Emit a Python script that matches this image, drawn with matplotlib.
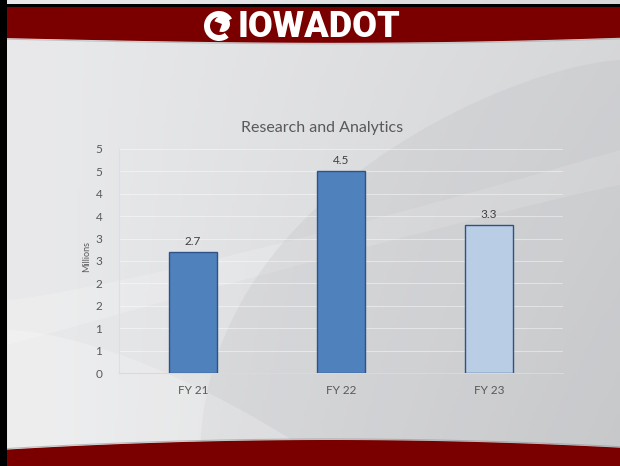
import numpy as np
import matplotlib
matplotlib.use("Agg")
import matplotlib.pyplot as plt
from matplotlib.patches import Polygon, Rectangle, Wedge, Circle

plt.rcParams["font.family"] = ["Lato", "DejaVu Sans"]

# data
categories = ["FY 21", "FY 22", "FY 23"]
values = [2.7, 4.5, 3.3]
value_labels = ["2.7", "4.5", "3.3"]
ytick_vals = [0, 0.5, 1, 1.5, 2, 2.5, 3, 3.5, 4, 4.5, 5]
ytick_labels = ["0", "1", "1", "2", "2", "3", "3", "4", "4", "5", "5"]

RED = "#7A0000"
BLUE = "#4F81BD"
LIGHT = "#B9CDE5"
EDGE = "#2E5288"
TXT = "#595959"

W, H = 620, 466
fig = plt.figure(figsize=(W / 100, H / 100), dpi=100)

# slide background (pixel coords)
bg = fig.add_axes([0, 0, 1, 1], zorder=0)
bg.set_xlim(0, W); bg.set_ylim(H, 0); bg.axis("off")
xx, yy = np.meshgrid(np.linspace(0, 1, 200), np.linspace(0, 1, 150))
shade = 0.91 - 0.11 * np.clip(xx * 1.1 - 0.1, 0, 1) * (0.6 + 0.4 * yy)
bg.imshow(np.dstack([shade, shade + 0.003, shade + 0.01]).clip(0, 1),
          extent=(0, W, H, 0), aspect="auto", zorder=0)

# soft swooshes
t = np.linspace(0, 1, 60)
upper = np.column_stack([8 + t * 612, 300 - 150 * t ** 1.2])
lower = np.column_stack([620 - t * 612, 225 - 40 * (1 - t) + 120 * t ** 1.1])
bg.add_patch(Polygon(np.vstack([upper, lower]), closed=True,
                     color="white", alpha=0.18, lw=0, zorder=1))
arc = np.column_stack([620 - 420 * np.sin(t * np.pi / 2), 60 + 400 * t ** 1.5])
bg.add_patch(Polygon(np.vstack([arc, [[620, 466], [620, 60]]]), closed=True,
                     color="#b8b9bc", alpha=0.22, lw=0, zorder=1))
arc2 = np.column_stack([8 + 300 * t, 330 + 120 * t ** 1.6])
bg.add_patch(Polygon(np.vstack([arc2, [[8, 466]]]), closed=True,
                     color="white", alpha=0.22, lw=0, zorder=1))

# header band
xs = np.linspace(0, W, 50)
hb = 38 + 5 * np.sin(np.pi * xs / 700) - 2 * (xs / W) ** 4
bg.add_patch(Polygon(np.vstack([[[0, 6]], np.column_stack([xs, hb]), [[W, 6]]]),
                     closed=True, color=RED, lw=0, zorder=3))
bg.plot(xs, hb + 1, color="#9a9a9a", lw=0.8, alpha=0.5, zorder=3)
bg.add_patch(Rectangle((0, 4), W, 3, color="black", lw=0, zorder=4))

# footer band
fb = 440 + 10 * ((xs - 330) / 330) ** 2
fb = np.minimum(fb, 450)
bg.add_patch(Polygon(np.vstack([[[0, H]], np.column_stack([xs, fb]), [[W, H]]]),
                     closed=True, color=RED, lw=0, zorder=3))
bg.plot(xs, fb - 1, color="#8a8a8a", lw=0.8, alpha=0.5, zorder=3)
bg.add_patch(Rectangle((0, 0), 7, H, color="black", lw=0, zorder=4))

# logo: swirl mark + wordmark
bg.add_patch(Wedge((219, 26), 15, 50, 330, width=6, color="white", lw=0, zorder=5))
bg.add_patch(Wedge((222, 24), 8, 200, 110, color="white", lw=0, zorder=5))
bg.text(238, 27, "IOWADOT", color="white", fontsize=26, fontweight="black",
        family=["Roboto", "DejaVu Sans"], ha="left", va="center", zorder=5)

# chart
ax = fig.add_axes([119 / W, 1 - 373 / H, (563 - 119) / W, (373 - 149) / H], zorder=2)
ax.patch.set_alpha(0)
x = np.arange(len(categories))
colors = [BLUE, BLUE, LIGHT]
bars = ax.bar(x, values, width=0.32, color=colors, edgecolor=EDGE, lw=1.0, zorder=3)
for xi, v, lab in zip(x, values, value_labels):
    ax.text(xi, v + 0.12, lab, ha="center", va="bottom", fontsize=8.5, color="#404040")

ax.set_xlim(-0.5, 2.5)
ax.set_ylim(0, 5)
ax.set_yticks(ytick_vals)
ax.set_yticklabels(ytick_labels)
ax.set_xticks(x)
ax.set_xticklabels(categories)
ax.tick_params(axis="both", length=0, labelsize=8.5, colors=TXT)
ax.tick_params(axis="x", pad=9)
ax.tick_params(axis="y", pad=12)
ax.grid(axis="y", color="white", lw=0.7, alpha=0.45, zorder=0)
for s in ["top", "right"]:
    ax.spines[s].set_visible(False)
ax.spines["left"].set_color("#d3e3e8")
ax.spines["bottom"].set_color("#d9d9d9")
ax.set_ylabel("Millions", fontsize=6.5, color=TXT, labelpad=2)
ax.yaxis.set_label_coords(-0.062, 0.52)
bg.text(322, 128, "Research and Analytics", fontsize=11.5, color=TXT,
        ha="center", va="center", zorder=5)

fig.savefig("out.png", dpi=100)
